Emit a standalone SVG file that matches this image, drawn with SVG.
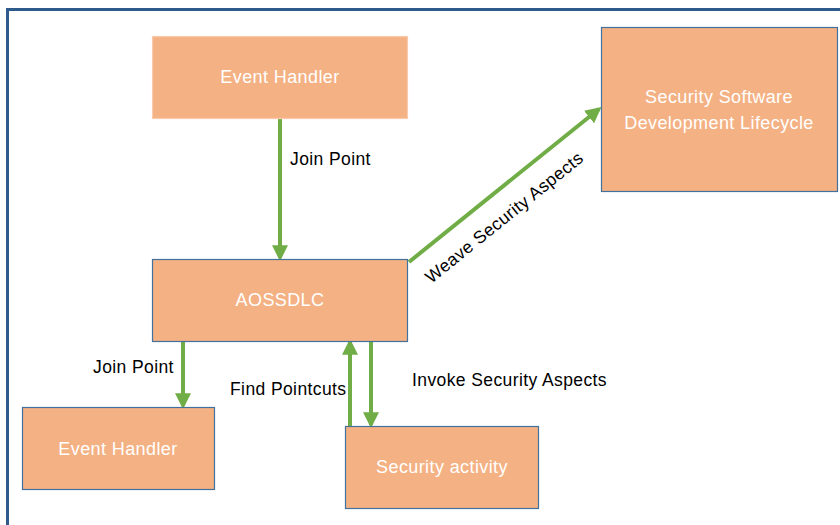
<svg xmlns="http://www.w3.org/2000/svg" width="840" height="525" viewBox="0 0 840 525" xml:space="preserve">
<defs>
<style>
.box{fill:#F4B183;stroke:#41719C;stroke-width:1.2}
.boxl{fill:#F4B183;stroke:#F8CBAD;stroke-width:1.2}
.bt{font-family:"Liberation Sans",Arial,sans-serif;font-size:18px;letter-spacing:0.4px;fill:#FFFFFF;text-anchor:middle}
.lbl{font-family:"Liberation Sans",Arial,sans-serif;font-size:17.5px;letter-spacing:0.4px;fill:#000000}
.con{stroke:#70AD47;stroke-width:4;fill:none}
</style>
<marker id="ah" markerWidth="4" markerHeight="4" refX="3.2" refY="2" orient="auto" markerUnits="strokeWidth">
<path d="M0,0 L4,2 L0,4 Z" fill="#70AD47"/>
</marker>
</defs>
<rect x="0" y="0" width="840" height="525" fill="#FFFFFF"/>
<path d="M7.5,530 L7.5,9.5 L845,9.5" fill="none" stroke="#2E5A8C" stroke-width="3"/>
<g id="connectors">
<line class="con" x1="280" y1="118" x2="280" y2="258" marker-end="url(#ah)"/>
<line class="con" x1="409" y1="262" x2="599" y2="109" marker-end="url(#ah)"/>
<line class="con" x1="183" y1="341" x2="183" y2="406" marker-end="url(#ah)"/>
<line class="con" x1="350" y1="426" x2="350" y2="342" marker-end="url(#ah)"/>
<line class="con" x1="371" y1="341" x2="371" y2="425" marker-end="url(#ah)"/>
<text class="lbl" x="290" y="165">Join Point</text>
<text class="lbl" x="508" y="222" text-anchor="middle" transform="rotate(-38.9 508 222)">Weave Security  Aspects</text>
<text class="lbl" x="93" y="373">Join Point</text>
<text class="lbl" x="230" y="395">Find Pointcuts</text>
<text class="lbl" x="412" y="386">Invoke Security  Aspects</text>
</g>
<g id="event-handler-top">
<rect class="boxl" x="152.5" y="36.5" width="255" height="82"/>
<text class="bt" x="280" y="83">Event Handler</text>
</g>
<g id="ssdl">
<rect class="box" x="601.5" y="27.5" width="236" height="164"/>
<text class="bt" x="719" y="103">Security Software</text>
<text class="bt" x="719" y="129">Development Lifecycle</text>
</g>
<g id="aossdlc">
<rect class="box" x="152.5" y="259.5" width="255" height="82"/>
<text class="bt" x="280" y="306">AOSSDLC</text>
</g>
<g id="event-handler-bottom">
<rect class="box" x="22.5" y="407.5" width="192" height="82"/>
<text class="bt" x="118" y="455">Event Handler</text>
</g>
<g id="security-activity">
<rect class="box" x="345.5" y="426.5" width="193" height="82"/>
<text class="bt" x="442" y="473">Security activity</text>
</g>
</svg>
